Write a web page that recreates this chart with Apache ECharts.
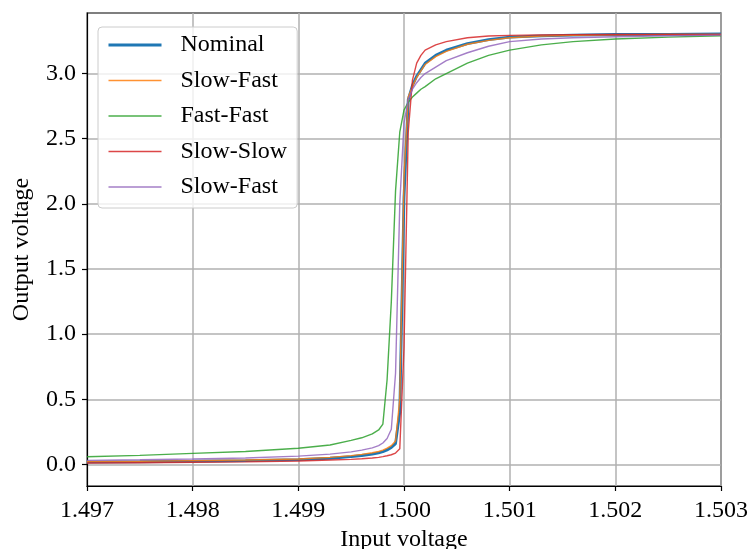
<!DOCTYPE html>
<html>
<head>
<meta charset="utf-8">
<script src="https://cdn.jsdelivr.net/npm/echarts@6/dist/echarts.min.js"></script>
<style>html,body{margin:0;padding:0;background:#fff;}#c{width:750px;height:549px;}</style>
</head>
<body>
<div id="c"></div>
<script>
var xValues = [1.4970, 1.4975, 1.4980, 1.4985, 1.4990, 1.4993, 1.4995, 1.4996, 1.4997, 1.49976, 1.4998, 1.49984, 1.49988, 1.49992, 1.49996, 1.5000, 1.50004, 1.50008, 1.50012, 1.50016, 1.5002, 1.5003, 1.5004, 1.5006, 1.5008, 1.5010, 1.5013, 1.5016, 1.5020, 1.5025, 1.5030];

var seriesNames = ['Nominal', 'Slow-Fast', 'Fast-Fast', 'Slow-Slow', 'Slow-Fast '];
var seriesColors = ['#1f77b4', '#ff7f0e', '#2ca02c', '#d62728', '#9467bd'];

var nominal  = [0.018, 0.021, 0.025, 0.030, 0.037, 0.048, 0.060, 0.069, 0.080, 0.089, 0.098, 0.112, 0.130, 0.160, 0.40, 2.05, 2.80, 2.91, 2.98, 3.03, 3.08, 3.14, 3.18, 3.23, 3.26, 3.28, 3.29, 3.295, 3.30, 3.30, 3.305];
var slowFast = [0.022, 0.025, 0.030, 0.035, 0.042, 0.055, 0.068, 0.078, 0.090, 0.100, 0.110, 0.125, 0.145, 0.180, 0.50, 2.20, 2.82, 2.90, 2.97, 3.02, 3.07, 3.13, 3.17, 3.225, 3.255, 3.275, 3.288, 3.293, 3.297, 3.30, 3.30];
var fastFast = [0.060, 0.070, 0.085, 0.100, 0.125, 0.150, 0.185, 0.205, 0.235, 0.265, 0.310, 0.65, 1.25, 2.10, 2.55, 2.72, 2.78, 2.82, 2.85, 2.88, 2.90, 2.96, 3.00, 3.08, 3.14, 3.18, 3.22, 3.245, 3.265, 3.28, 3.29];
var slowSlow = [0.012, 0.014, 0.017, 0.020, 0.027, 0.034, 0.039, 0.044, 0.050, 0.055, 0.060, 0.067, 0.075, 0.088, 0.120, 0.90, 2.55, 2.95, 3.08, 3.14, 3.18, 3.22, 3.245, 3.275, 3.288, 3.293, 3.297, 3.299, 3.30, 3.30, 3.30];
var slowFast2 = [0.032, 0.036, 0.042, 0.050, 0.064, 0.080, 0.097, 0.110, 0.128, 0.145, 0.165, 0.200, 0.270, 0.70, 2.00, 2.62, 2.80, 2.88, 2.93, 2.97, 3.00, 3.05, 3.10, 3.16, 3.21, 3.245, 3.265, 3.275, 3.283, 3.29, 3.295];

var xTicks = [1.497, 1.498, 1.499, 1.500, 1.501, 1.502, 1.503];
var yTicks = [0, 0.5, 1.0, 1.5, 2.0, 2.5, 3.0];

var allY = [nominal, slowFast, fastFast, slowSlow, slowFast2];
var font = 'Liberation Serif';

function pairs(ys) {
  return xValues.map(function (x, i) { return [x, ys[i]]; });
}

var series = allY.map(function (ys, k) {
  return {
    name: seriesNames[k],
    type: 'line',
    data: pairs(ys),
    symbol: 'none',
    smooth: false,
    animation: false,
    lineStyle: { color: seriesColors[k], width: k === 0 ? 2.8 : 1.4, opacity: k === 0 ? 1 : 0.85 },
    itemStyle: { color: seriesColors[k] },
    z: 2 + k
  };
});

var legendData = seriesNames.map(function (n, k) {
  return { name: n, lineStyle: { width: k === 0 ? 3 : 1.5, color: seriesColors[k], opacity: k === 0 ? 1 : 0.85 } };
});

var chart = echarts.init(document.getElementById('c'), null, { renderer: 'canvas' });
chart.setOption({
  backgroundColor: '#ffffff',
  animation: false,
  grid: { left: 87, right: 29, top: 13, bottom: 63, containLabel: false, outerBoundsMode: 'none', show: true, borderColor: '#000', borderWidth: 1.2, backgroundColor: 'transparent' },
  legend: {
    data: legendData,
    left: 98, top: 27,
    orient: 'vertical',
    itemWidth: 53, itemHeight: 14, itemGap: 11.5,
    padding: [6, 10, 9, 9],
    backgroundColor: 'rgba(255,255,255,0.8)',
    borderColor: '#cccccc', borderWidth: 1, borderRadius: 4,
    itemStyle: { opacity: 0 },
    formatter: function (n) { return n.trim(); },
    textStyle: { fontFamily: font, fontSize: 24, color: '#000', padding: [0, 0, 0, 14] }
  },
  xAxis: {
    type: 'value', min: 1.497, max: 1.503, interval: 0.001,
    name: 'Input voltage', nameLocation: 'middle', nameGap: 40,
    nameTextStyle: { fontFamily: font, fontSize: 24, color: '#000' },
    axisLine: { show: true, onZero: false, lineStyle: { color: '#000', width: 1.2 } },
    axisTick: { show: true, inside: false, length: 5, customValues: xTicks, lineStyle: { color: '#000', width: 1.2 } },
    axisLabel: { show: true, margin: 13, customValues: xTicks, fontFamily: font, fontSize: 24, color: '#000', showMinLabel: true, showMaxLabel: true, hideOverlap: false, formatter: function (v) { return v.toFixed(3); } },
    splitLine: { show: true, lineStyle: { color: '#b0b0b0', width: 1.5 } }
  },
  yAxis: {
    type: 'value', min: -0.165, max: 3.465,
    name: 'Output voltage', nameLocation: 'middle', nameGap: 53, nameRotate: 90,
    nameTextStyle: { fontFamily: font, fontSize: 24, color: '#000' },
    axisLine: { show: true, onZero: false, lineStyle: { color: '#000', width: 1.2 } },
    axisTick: { show: true, inside: false, length: 5, customValues: yTicks, lineStyle: { color: '#000', width: 1.2 } },
    axisLabel: { show: true, margin: 11, customValues: yTicks, fontFamily: font, fontSize: 24, color: '#000', formatter: function (v) { return v.toFixed(1); } },
    splitLine: { show: true, lineStyle: { color: '#b0b0b0', width: 1.5 } }
  },
  series: series
});
</script>
</body>
</html>
